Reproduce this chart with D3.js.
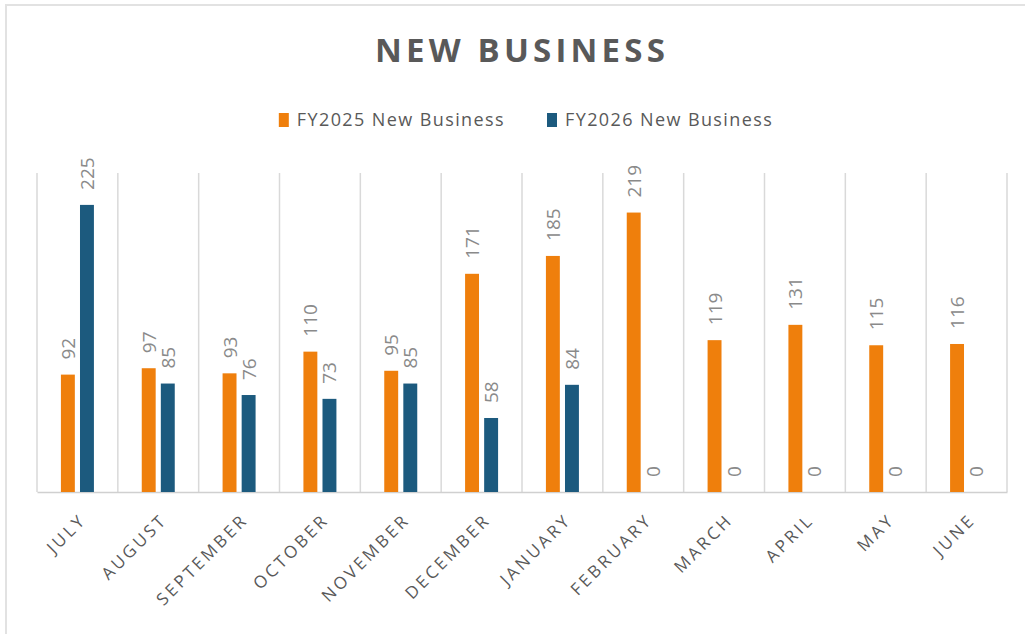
<!DOCTYPE html>
<html lang="en">
<head>
    <meta charset="UTF-8">
    <script src="https://d3js.org/d3.v7.min.js"></script>
    <style>
        body {margin: 0; background-color: #ffffff;}
        svg {display: block; font-family: "Open Sans", sans-serif;}
    </style>
</head>
<body>
<svg class="chart"></svg>
<script type="text/javascript">
    // chart values
    let months = ['JULY', 'AUGUST', 'SEPTEMBER', 'OCTOBER', 'NOVEMBER', 'DECEMBER',
        'JANUARY', 'FEBRUARY', 'MARCH', 'APRIL', 'MAY', 'JUNE'];
    let fy2025 = [92, 97, 93, 110, 95, 171, 185, 219, 119, 131, 115, 116];
    let fy2026 = [225, 85, 76, 73, 85, 58, 84, 0, 0, 0, 0, 0];
    let seriesNames = ['FY2025 New Business', 'FY2026 New Business'];
    let seriesColors = ['#ef7f0c', '#1c5a7e'];

    let chart_width = 1025;
    let chart_height = 634;
    let plot = {left: 37, right: 1007, top: 173, bottom: 492};

    var svg = d3.select('.chart')
        .attr('width', chart_width)
        .attr('height', chart_height);

    // frame (top + left edge only)
    svg.append('path')
        .attr('d', 'M6,634 V5 H1025')
        .attr('fill', 'none')
        .attr('stroke', '#e2e2e2')
        .attr('stroke-width', 2);

    svg.append('text')
        .attr('x', 522).attr('y', 62)
        .attr('text-anchor', 'middle')
        .attr('font-size', 33).attr('font-weight', 'bold')
        .attr('letter-spacing', '4.2px')
        .attr('fill', '#595959')
        .text('NEW BUSINESS');

    var x = d3.scaleBand()
        .domain(months)
        .range([plot.left, plot.right]);

    var xInner = d3.scaleBand()
        .domain([0, 1])
        .range([x.bandwidth() / 2 - 16.5, x.bandwidth() / 2 + 16.5])
        .paddingInner(0.27);

    var y = d3.scaleLinear()
        .domain([0, 250])
        .range([plot.bottom, plot.top]);

    // vertical separators between categories
    var edges = months.map(m => x(m)).concat([plot.right]);
    svg.append('g').selectAll('line').data(edges).enter().append('line')
        .attr('x1', d => d).attr('x2', d => d)
        .attr('y1', plot.top).attr('y2', plot.bottom)
        .attr('stroke', '#d9d9d9').attr('stroke-width', 1.5);

    // baseline axis
    var xAxis = d3.axisBottom(x).tickSize(0).tickFormat('');
    var ax = svg.append('g').attr('transform', 'translate(0,' + plot.bottom + ')').call(xAxis);
    ax.select('.domain').attr('stroke', '#d0d0d0').attr('stroke-width', 1.5);

    // category labels
    svg.append('g').selectAll('text').data(months).enter().append('text')
        .attr('transform', d => 'translate(' + (x(d) + x.bandwidth() / 2 + 10) + ',521) rotate(-45)')
        .attr('text-anchor', 'end')
        .attr('font-size', 17)
        .attr('letter-spacing', '3px')
        .attr('fill', '#595959')
        .text(d => d);

    var rows = months.map((m, i) => ({month: m, values: [fy2025[i], fy2026[i]]}));

    var groups = svg.append('g').selectAll('g').data(rows).enter().append('g')
        .attr('transform', d => 'translate(' + x(d.month) + ',0)');

    groups.selectAll('rect').data(d => d.values).enter().append('rect')
        .attr('x', (d, i) => xInner(i))
        .attr('width', xInner.bandwidth())
        .attr('y', d => y(d))
        .attr('height', d => y(0) - y(d))
        .attr('fill', (d, i) => seriesColors[i]);

    groups.selectAll('text').data(d => d.values).enter().append('text')
        .attr('transform', (d, i) => 'translate(' + (xInner(i) + xInner.bandwidth() / 2 + 7) + ',' + (y(d) - 15) + ') rotate(-90)')
        .attr('text-anchor', 'start')
        .attr('font-size', 19)
        .attr('fill', '#8a8a8a')
        .text(d => d);

    // legend, centred
    var legend = svg.append('g');
    var items = legend.selectAll('g').data(seriesNames).enter().append('g');
    items.append('rect')
        .attr('width', 10).attr('height', 14)
        .attr('y', 113)
        .attr('fill', (d, i) => seriesColors[i]);
    items.append('text')
        .attr('x', 18).attr('y', 126)
        .attr('font-size', 18)
        .attr('letter-spacing', '1.4px')
        .attr('fill', '#595959')
        .text(d => d);
    var offs = 0;
    var widths = [];
    items.each(function () { widths.push(this.getBBox().width); });
    var gap = 42;
    var total = d3.sum(widths) + gap * (widths.length - 1);
    var start = 526 - total / 2;
    items.attr('transform', (d, i) => {
        var tx = start + offs;
        offs += widths[i] + gap;
        return 'translate(' + tx + ',0)';
    });
</script>
</body>
</html>
